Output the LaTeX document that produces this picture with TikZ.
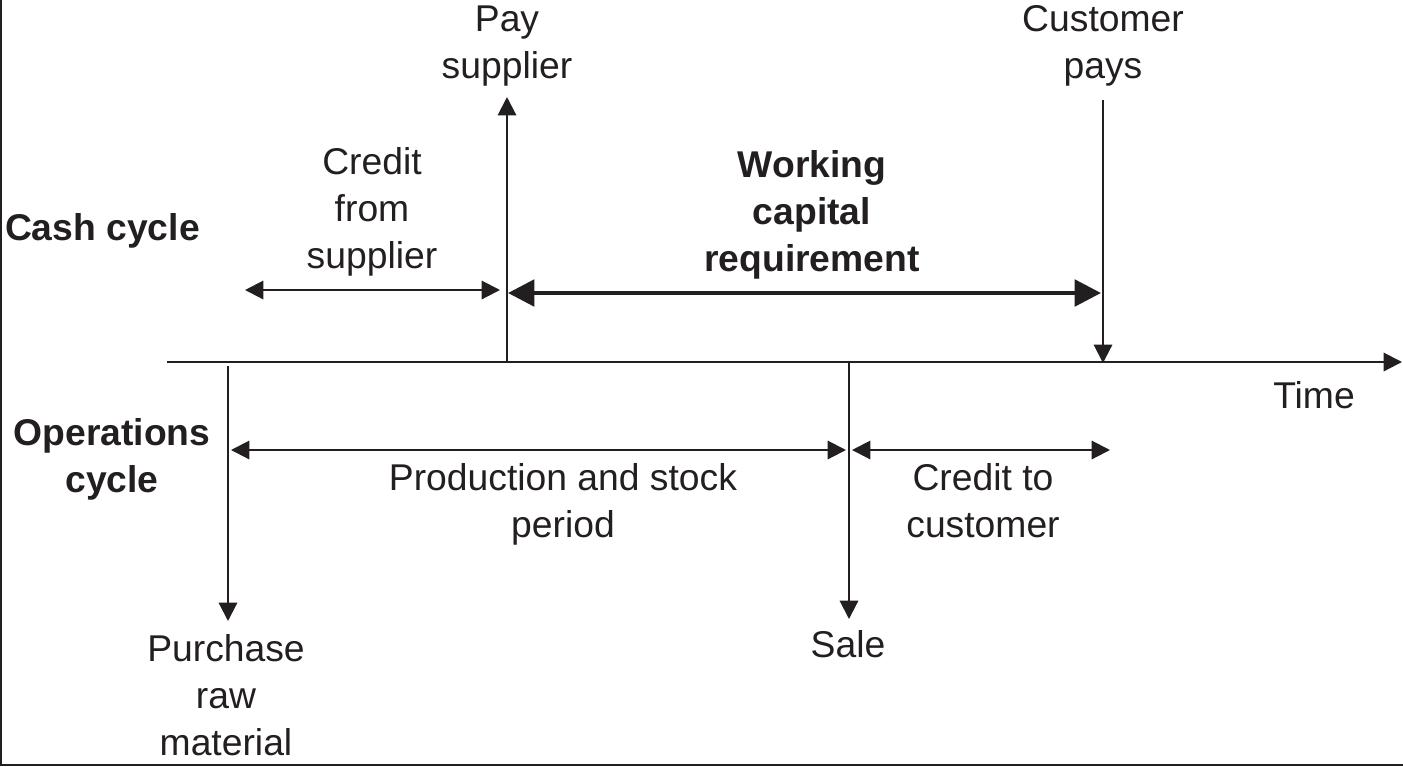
\documentclass[tikz,border=0pt]{standalone}
\usepackage{fontspec}
\setmainfont{Liberation Sans}
\usetikzlibrary{arrows.meta}
\definecolor{ink}{RGB}{35,31,32}
\tikzset{>/.tip={Triangle[length=5.2pt,width=5.2pt]},
  lbl/.style={align=center,inner sep=0pt,text=ink,font=\fontsize{10.6}{13.3}\selectfont},
  head/.style={lbl,font=\fontsize{10.6}{13.3}\selectfont\bfseries},
  span/.style={<->,line width=0.6pt,draw=ink},
  bigspan/.style={{Triangle[length=7.5pt,width=7.5pt]}-{Triangle[length=7.5pt,width=7.5pt]},line width=1.2pt,draw=ink}}

\begin{document}
\begin{tikzpicture}[x=0.01cm,y=-0.01cm,line width=0.6pt]
\useasboundingbox (0,0) rectangle (1403,766);
\draw[ink,line width=0.7pt] (1,0) -- (1,765) -- (1403,765);

% labels
\node[lbl] (pay) at (507,46) {Pay\\supplier};
\node[lbl] (cust) at (1103,46) {Customer\\pays};
\node[lbl] (credsup) at (372,212) {Credit\\from\\supplier};
\node[head] (wcr) at (812,215) {Working\\capital\\requirement};
\node[head,anchor=west] (cash) at (4,231) {Cash cycle};
\node[head] (ops) at (112,459) {Operations\\cycle};
\node[lbl] (time) at (1314,395) {Time};
\node[lbl] (prod) at (563,504) {Production and stock\\period};
\node[lbl] (credcust) at (983,501) {Credit to\\customer};
\node[lbl] (sale) at (848,644) {Sale};
\node[lbl] (buy) at (226,695) {Purchase\\raw\\material};

% end points
\coordinate (t0) at (167,362);
\coordinate (t1) at (1402,362);
\coordinate (pay-b) at (507,362);
\coordinate (pay-t) at (507,97);
\coordinate (cust-t) at (1103,100);
\coordinate (cust-b) at (1103,363);
\coordinate (buy-t) at (228,366);
\coordinate (buy-b) at (228,621);
\coordinate (sale-t) at (849,362);
\coordinate (sale-b) at (849,619);
\coordinate (cs-l) at (245,290);
\coordinate (cs-r) at (500,290);
\coordinate (wc-l) at (508,293);
\coordinate (wc-r) at (1101,293);
\coordinate (pr-l) at (231,450);
\coordinate (pr-r) at (846,450);
\coordinate (cc-l) at (852,450);
\coordinate (cc-r) at (1110,450);

\draw[->,ink] (t0) -- (t1);
\draw[->,ink] (pay-b) -- (pay-t);
\draw[->,ink] (cust-t) -- (cust-b);
\draw[->,ink] (buy-t) -- (buy-b);
\draw[->,ink] (sale-t) -- (sale-b);
\draw[span] (cs-l) -- (cs-r);
\draw[bigspan] (wc-l) -- (wc-r);
\draw[span] (pr-l) -- (pr-r);
\draw[span] (cc-l) -- (cc-r);
\end{tikzpicture}
\end{document}
